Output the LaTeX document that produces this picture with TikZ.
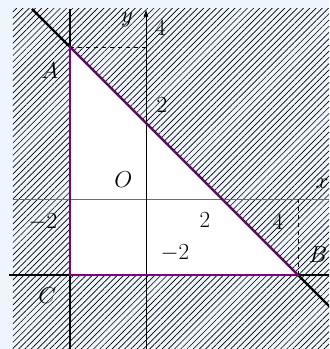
\documentclass[tikz,border=0pt]{standalone}
\usepackage{amsmath}
\usetikzlibrary{arrows.meta, patterns.meta}
\definecolor{paleblue}{HTML}{EEF5FC}
\definecolor{edgepurple}{HTML}{800080}
\definecolor{axisgray}{HTML}{6E6E6E}

\begin{document}
\begin{tikzpicture}[
  >={Latex[length=1.8mm, width=1.3mm]},
  hatch/.style={pattern={Lines[angle=45, distance=3.3pt, line width=0.5pt]},
    pattern color=black},
  axis/.style={line width=0.45pt, #1},
  bound/.style={line width=1.8pt, black},
  side/.style={line width=1.2pt, edgepurple},
  guide/.style={dashed, line width=0.45pt, black},
  lbl/.style={font=\LARGE, inner sep=0pt},
]

% Background
\useasboundingbox (-3.842,-3.947) rectangle (4.816,5.237);
\fill[paleblue] (-3.842,-3.947) rectangle (4.816,5.237);
\clip (-3.842,-3.947) rectangle (4.816,5.237);

% Corner points and line ends
\coordinate (A) at (-2,4);
\coordinate (B) at (4,-2);
\coordinate (C) at (-2,-2);
\coordinate (ltop) at (-3,5);
\coordinate (lbot) at (6,-4);
\coordinate (vtop) at (-2,5);
\coordinate (vbot) at (-2,-4.2);
\coordinate (hleft) at (-3.6,-2);
\coordinate (hright) at (5.2,-2);
\coordinate (ya) at (0,4);
\coordinate (xb) at (4,0);

% =============================================
% Hatched region, triangle left blank
% =============================================
\fill[hatch] (-3.5,-4.2) rectangle (5.2,5);
\fill[white] (A) -- (B) -- (C) -- cycle;

% Axes
\draw[axis=axisgray] (-3.5,0) -- (5.2,0);
\draw[axis=black, ->] (0,-4.2) -- (0,4.98);

% Dashed guides
\draw[guide] (A) -- (ya);
\draw[guide] (B) -- (xb);

% Bounding lines
\draw[bound] (ltop) -- (lbot);
\draw[bound] (vtop) -- (vbot);
\draw[bound] (hleft) -- (hright);

% Triangle ABC
\draw[side] (A) -- (B) -- (C) -- cycle;

% Labels
\node[lbl] (xlab) at (4.63,0.42) {$x$};
\node[lbl] (ylab) at (-0.5,4.71) {$y$};
\node[lbl] (orig) at (-0.6,0.5) {$O$};
\node[lbl] (y4) at (0.38,4.5) {$4$};
\node[lbl] (y2) at (0.42,2.47) {$2$};
\node[lbl] (ym2) at (0.76,-1.42) {$-2$};
\node[lbl] (x2) at (1.55,-0.55) {$2$};
\node[lbl] (x4) at (3.47,-0.6) {$4$};
\node[lbl] (xm2) at (-2.71,-0.6) {$-2$};
\node[lbl] (Alab) at (-2.53,3.39) {$A$};
\node[lbl] (Blab) at (4.53,-1.47) {$B$};
\node[lbl] (Clab) at (-2.6,-2.55) {$C$};

\end{tikzpicture}
\end{document}
